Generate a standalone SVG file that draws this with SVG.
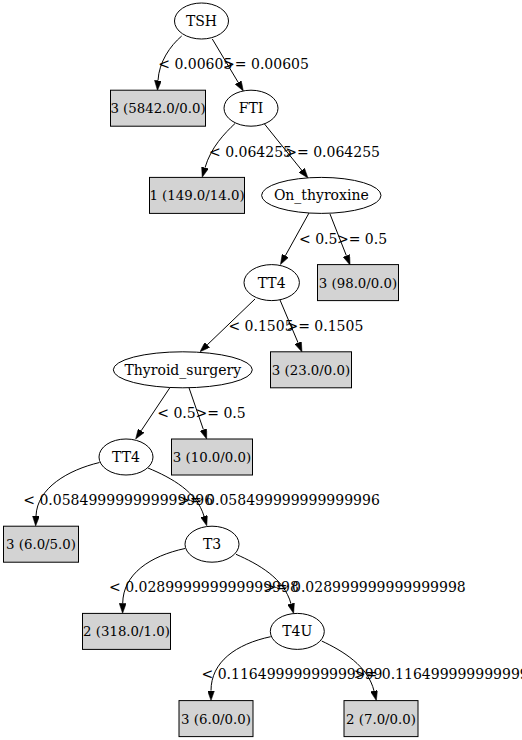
<svg xmlns="http://www.w3.org/2000/svg" width="522" height="740" viewBox="0 0 522 740">
<style>
  text { font-family: "DejaVu Serif", "Liberation Serif", serif; font-size: 14px; fill: #000; }
  .n { text-anchor: middle; }
  .leaf text { font-size: 13.3px; }
  .split ellipse { fill: #fff; stroke: #000; stroke-width: 1; }
  .leaf rect { fill: #d3d3d3; stroke: #000; stroke-width: 1; }
  .edge path { fill: none; stroke: #000; stroke-width: 1; marker-end: url(#arr); }
  .lbl { text-anchor: middle; }
</style>
<defs>
  <marker id="arr" viewBox="0 0 10 7" refX="0" refY="3.5" markerWidth="10" markerHeight="7" markerUnits="userSpaceOnUse" orient="auto">
    <path d="M0,0 L10,3.5 L0,7 z" fill="#000" stroke="#000" stroke-width="0.5"/>
  </marker>
</defs>
<rect width="522" height="740" fill="#fff"/>

<g id="connectors" class="edge">
  <path d="M181.7,36 C170,46 159,62 158,80.5"/>
  <path d="M212.3,39 L238.2,82.4"/>
  <path d="M235,123.5 C225,133 211,147 205,167.7"/>
  <path d="M264.5,124 L301.7,170.2"/>
  <path d="M309,213 L285.3,255.8"/>
  <path d="M330,214 L346.4,255.7"/>
  <path d="M255,299 L207.2,344.9"/>
  <path d="M280,300 L298.1,342.8"/>
  <path d="M170,387.5 L141.2,430.7"/>
  <path d="M189,387.8 L203.4,429.6"/>
  <path d="M99.5,462.5 C68,470 37,488 36,516"/>
  <path d="M148,468 C172,478 197,492 204,516.2"/>
  <path d="M185,548.5 C150,556 123,574 122.7,603.4"/>
  <path d="M236,554.3 C258,564 284,578 291,603.8"/>
  <path d="M270.7,636.7 C236,644 211,662 211,690.6"/>
  <path d="M321.7,641 C343,651 368,666 374,690.9"/>
  <g id="edge-labels">
    <text class="lbl" x="195.3" y="69.4">&lt; 0.00605</text>
    <text class="lbl" x="266" y="69.4">&gt;= 0.00605</text>
    <text class="lbl" x="250.5" y="156.6">&lt; 0.064255</text>
    <text class="lbl" x="332.6" y="156.6">&gt;= 0.064255</text>
    <text class="lbl" x="318.2" y="243.8">&lt; 0.5</text>
    <text class="lbl" x="362" y="243.8">&gt;= 0.5</text>
    <text class="lbl" x="261" y="331">&lt; 0.1505</text>
    <text class="lbl" x="324.9" y="331">&gt;= 0.1505</text>
    <text class="lbl" x="176.5" y="418.2">&lt; 0.5</text>
    <text class="lbl" x="220.6" y="418.2">&gt;= 0.5</text>
    <text class="lbl" x="118.2" y="505.4">&lt; 0.058499999999999996</text>
    <text class="lbl" x="279" y="505.4">&gt;= 0.058499999999999996</text>
    <text class="lbl" x="203.9" y="592.2">&lt; 0.028999999999999998</text>
    <text class="lbl" x="364.9" y="592.2">&gt;= 0.028999999999999998</text>
    <text class="lbl" x="292" y="679">&lt; 0.11649999999999999</text>
    <text class="lbl" x="450.2" y="679">&gt;= 0.11649999999999999</text>
  </g>
</g>

<g id="node-TSH" class="split"><ellipse cx="201.5" cy="21" rx="27" ry="18"/><text class="n" x="201.5" y="26">TSH</text></g>
<g id="leaf-5842" class="leaf"><rect x="110.5" y="90.2" width="95" height="36"/><text class="n" x="158" y="113.2">3 (5842.0/0.0)</text></g>
<g id="node-FTI" class="split"><ellipse cx="251" cy="108.2" rx="27" ry="18"/><text class="n" x="251" y="113.2">FTI</text></g>
<g id="leaf-149" class="leaf"><rect x="149.5" y="177.4" width="95" height="36"/><text class="n" x="197" y="200.4">1 (149.0/14.0)</text></g>
<g id="node-On_thyroxine" class="split"><ellipse cx="321.3" cy="195.4" rx="59.7" ry="18"/><text class="n" x="321.3" y="200.4">On_thyroxine</text></g>
<g id="node-TT4-1" class="split"><ellipse cx="271.7" cy="282.6" rx="27.7" ry="18"/><text class="n" x="271.7" y="287.6">TT4</text></g>
<g id="leaf-98" class="leaf"><rect x="317.5" y="264.6" width="81" height="36"/><text class="n" x="358" y="287.6">3 (98.0/0.0)</text></g>
<g id="node-Thyroid_surgery" class="split"><ellipse cx="182.8" cy="369.8" rx="69.5" ry="18"/><text class="n" x="182.8" y="374.8">Thyroid_surgery</text></g>
<g id="leaf-23" class="leaf"><rect x="270.5" y="351.8" width="81" height="36"/><text class="n" x="311" y="374.8">3 (23.0/0.0)</text></g>
<g id="node-TT4-2" class="split"><ellipse cx="126" cy="457" rx="27" ry="18"/><text class="n" x="126" y="462">TT4</text></g>
<g id="leaf-10" class="leaf"><rect x="171.5" y="439" width="81" height="36"/><text class="n" x="212" y="462">3 (10.0/0.0)</text></g>
<g id="leaf-6-5" class="leaf"><rect x="3.5" y="526.2" width="75" height="36"/><text class="n" x="41" y="549.2">3 (6.0/5.0)</text></g>
<g id="node-T3" class="split"><ellipse cx="212" cy="544.2" rx="27" ry="18"/><text class="n" x="212" y="549.2">T3</text></g>
<g id="leaf-318" class="leaf"><rect x="82.5" y="613.4" width="88" height="36"/><text class="n" x="126.5" y="636.4">2 (318.0/1.0)</text></g>
<g id="node-T4U" class="split"><ellipse cx="297.3" cy="631.4" rx="27" ry="18"/><text class="n" x="297.3" y="636.4">T4U</text></g>
<g id="leaf-6-0" class="leaf"><rect x="179" y="700.6" width="74" height="36"/><text class="n" x="216" y="723.6">3 (6.0/0.0)</text></g>
<g id="leaf-7-0" class="leaf"><rect x="344" y="700.6" width="74" height="36"/><text class="n" x="381" y="723.6">2 (7.0/0.0)</text></g>
</svg>
